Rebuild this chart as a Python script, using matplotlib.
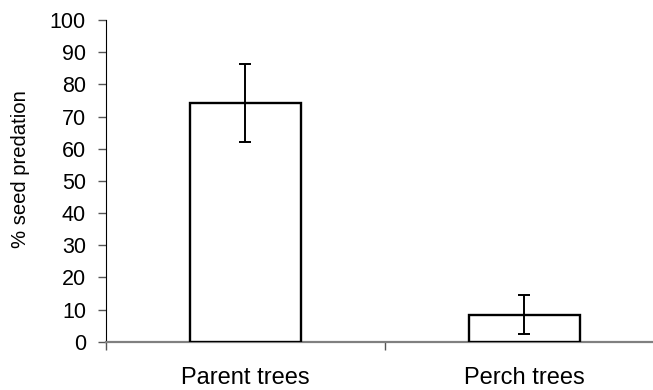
import numpy as np
import matplotlib
matplotlib.use("Agg")
import matplotlib.pyplot as plt

# Seed predation by tree type
categories = ["Parent trees", "Perch trees"]
predation = [74.2, 8.4]
errors = [12.0, 6.0]

plt.rcParams['font.family'] = ['Liberation Sans', 'DejaVu Sans']

fig = plt.figure(figsize=(6.53, 3.9), dpi=100)
# right edge runs slightly past the figure, so the x axis line reaches the border
ax = fig.add_axes([0.1623, 0.1238, 0.8545, 0.8249])

x = np.arange(len(categories))
ax.bar(x, predation, width=0.40, color="white", edgecolor="black", linewidth=1.7,
       yerr=errors, capsize=4, error_kw=dict(elinewidth=1.4, capthick=1.4, ecolor="black"), zorder=3)

ax.set_xlim(-0.5, len(categories) - 0.5)
ax.set_ylim(0, 100)
ax.set_yticks(np.arange(0, 101, 10))
ax.tick_params(axis="y", labelsize=15.5, length=5.8, width=1, color="#555555", direction="out", pad=8.6)

# category labels centered, ticks on the category boundaries
ax.set_xticks(x)
ax.set_xticklabels(categories, fontsize=17)
ax.tick_params(axis="x", length=0, pad=18.5)
ax.set_xticks(np.arange(-0.5, len(categories), 1.0), minor=True)
ax.tick_params(axis="x", which="minor", length=5.5, width=1, color="#555555", direction="out")

ax.spines["top"].set_visible(False)
ax.spines["right"].set_visible(False)
ax.spines["left"].set_color("black")
ax.spines["bottom"].set_color("#808080")
ax.spines["bottom"].set_linewidth(1.6)

ax.set_ylabel("% seed predation", fontsize=14.6)
ax.yaxis.set_label_coords(-0.136, 0.537)

fig.savefig("out.png", dpi=100)
